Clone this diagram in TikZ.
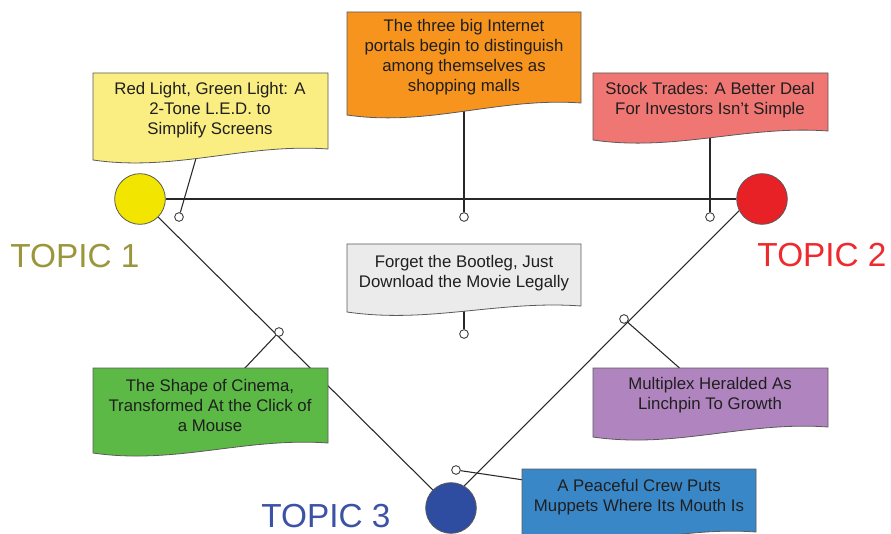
\documentclass[tikz,border=0pt]{standalone}
\usepackage{fontspec}
\setmainfont{Liberation Sans}
\definecolor{cYel}{RGB}{242,229,0}
\definecolor{cRed}{RGB}{232,33,39}
\definecolor{cBlu}{RGB}{46,77,160}
\definecolor{tYel}{RGB}{155,150,60}
\definecolor{tRed}{RGB}{238,42,46}
\definecolor{tBlu}{RGB}{60,82,165}
\definecolor{bYel}{RGB}{250,238,130}
\definecolor{bOra}{RGB}{247,148,29}
\definecolor{bRed}{RGB}{240,118,116}
\definecolor{bGry}{RGB}{235,235,235}
\definecolor{bGrn}{RGB}{92,185,70}
\definecolor{bPur}{RGB}{176,132,190}
\definecolor{bBlu}{RGB}{58,135,200}
\definecolor{lineC}{RGB}{40,40,40}
\definecolor{boxC}{RGB}{90,90,90}
\pgfdeclarelayer{bg}
\pgfsetlayers{bg,main}
\newcommand{\wbox}[6]{%
  \pgfmathsetmacro{\wA}{#3-0.35*(#3-#1)}%
  \pgfmathsetmacro{\wB}{#1+0.35*(#3-#1)}%
  \pgfmathsetmacro{\yA}{#5-6}%
  \pgfmathsetmacro{\yB}{#4+12}%
  \draw[boxstyle, fill=#6] (#1,#2) -- (#3,#2) -- (#3,#5) .. controls (\wA,\yA) and (\wB,\yB) .. (#1,#4) -- cycle;
}
\tikzset{
  boxstyle/.style={draw=boxC, line width=0.6pt},
  conn/.style={draw=lineC, line width=0.8pt},
  dot/.style={circle, draw=lineC, fill=white, inner sep=0pt, minimum size=6.5pt, line width=0.6pt},
  topic/.style={circle, draw=boxC, inner sep=0pt, minimum size=38pt, line width=0.6pt},
  txt/.style={align=center, inner sep=1pt, text=black!88, font=\fontsize{12.6}{15}\selectfont},
  tlabel/.style={anchor=base, inner sep=0pt, font=\fontsize{25}{30}\selectfont},
}
\begin{document}
\begin{tikzpicture}[x=0.75pt, y=-0.75pt]
\useasboundingbox (0,0) rectangle (891,534);

% topic circles
\node[topic, fill=cYel] (t1) at (140,199) {};
\node[topic, fill=cRed] (t2) at (762,199) {};
\node[topic, fill=cBlu] (t3) at (451,508) {};

% topic labels
\node[tlabel, text=tYel] (l1) at (75,268) {TOPIC 1};
\node[tlabel, text=tRed] (l2) at (822,267) {TOPIC 2};
\node[tlabel, text=tBlu] (l3) at (326,527) {TOPIC 3};

% boxes
\wbox{93}{73}{328}{160}{149}{bYel}
\wbox{347}{12}{581}{115}{103}{bOra}
\wbox{593}{73}{828}{140}{131}{bRed}
\wbox{347}{244}{581}{312}{306}{bGry}
\wbox{93}{368}{328}{453}{443}{bGrn}
\wbox{593}{368}{828}{437}{427}{bPur}
\wbox{522}{469}{756}{542}{532}{bBlu}

\node[txt] (b1) at (210,110) {Red Light, Green Light: A\\2-Tone L.E.D. to\\Simplify Screens};
\node[txt] (b2) at (464,57) {The three big Internet\\portals begin to distinguish\\among themselves as\\shopping malls};
\node[txt] (b3) at (710,100) {Stock Trades: A Better Deal\\For Investors Isn't Simple};
\node[txt] (b4) at (464,273) {Forget the Bootleg, Just\\Download the Movie Legally};
\node[txt] (b5) at (210,405) {The Shape of Cinema,\\Transformed At the Click of\\a Mouse};
\node[txt] (b6) at (710,395) {Multiplex Heralded As\\Linchpin To Growth};
\node[txt] (b7) at (639,497) {A Peaceful Crew Puts\\Muppets Where Its Mouth Is};

% dots
\node[dot] (d1) at (179,217) {};
\node[dot] (d2) at (464,217) {};
\node[dot] (d3) at (710,217) {};
\node[dot] (d4) at (464,334) {};
\node[dot] (d5) at (279,332) {};
\node[dot] (d6) at (624,319) {};
\node[dot] (d7) at (456,470) {};

\begin{pgfonlayer}{bg}
  \draw[conn] (t1) -- (t2);
  \draw[conn] (t1) -- (t3);
  \draw[conn] (t2.207) -- (t3.59);
  \draw[conn] (b1.center) -- (d1);
  \draw[conn] (b2.center) -- (d2);
  \draw[conn] (b3.center) -- (d3);
  \draw[conn] (b4.center) -- (d4);
  \draw[conn] (b5.center) -- (d5);
  \draw[conn] (b6.center) -- (d6);
  \draw[conn] (b7.center) -- (d7);
\end{pgfonlayer}
\end{tikzpicture}
\end{document}
